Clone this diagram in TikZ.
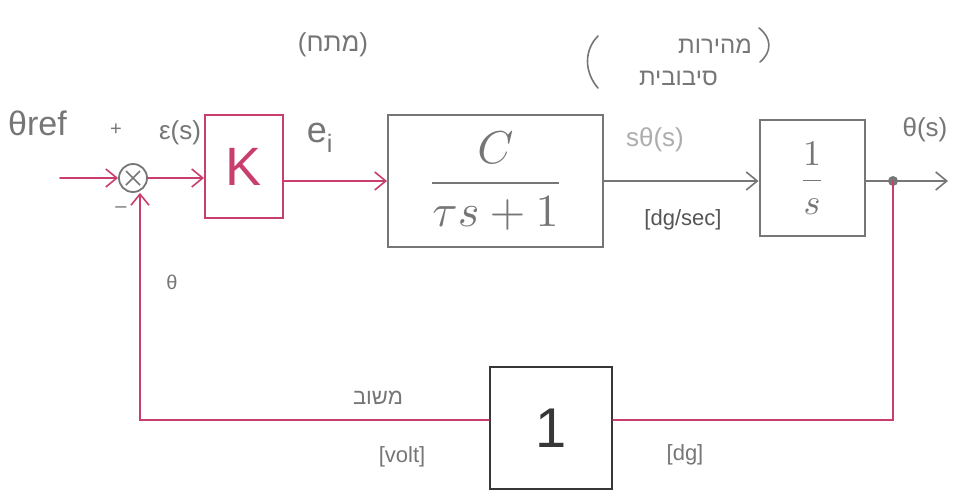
\documentclass[tikz,border=0pt]{standalone}
\usepackage{amsmath}
\usepackage{graphicx}
\usepackage{fontspec}
\setmainfont{Liberation Sans}
\newfontfamily\hebfont[Script=Hebrew]{Liberation Sans}
\TeXXeTstate=1
\usetikzlibrary{arrows.meta,calc}
\definecolor{pinkline}{RGB}{200,62,108}
\definecolor{pencil}{RGB}{118,118,118}
\definecolor{darkpencil}{RGB}{55,55,55}
\newcommand{\heb}[1]{{\hebfont\beginR #1\endR}}
\tikzset{
  wire/.style={line width=1.8pt, line cap=round},
  pinkwire/.style={wire, draw=pinkline},
  graywire/.style={wire, draw=pencil},
  tip/.style={-{Straight Barb[length=11pt,width=18pt,line width=1.6pt]}},
  blockbox/.style={draw, line width=2pt, rectangle, inner sep=0pt},
  lbl/.style={text=pencil, inner sep=0pt, font=\fontsize{26}{28}\selectfont},
  smalllbl/.style={text=pencil, inner sep=0pt, font=\fontsize{20}{22}\selectfont},
  bracket/.style={draw=pencil, line width=1.6pt, line cap=round},
}
\begin{document}
\begin{tikzpicture}[x=1pt,y=-1pt]
  \useasboundingbox (0,0) rectangle (971,496);
  \fill[white] (0,0) rectangle (971,496);

  % blocks
  \node[circle, draw=pencil, line width=1.8pt, minimum size=28pt, inner sep=0pt] (sum) at (133,178) {};
  \draw[pencil, line width=1.6pt] ($(sum)+(-7,-7)$) -- ($(sum)+(7,7)$) ($(sum)+(-7,7)$) -- ($(sum)+(7,-7)$);
  \node[blockbox, draw=pinkline, minimum width=78pt, minimum height=103pt,
        text=pinkline, font=\fontsize{54}{54}\selectfont] (K) at (244,166.5) {K};
  \node[blockbox, draw=pencil, minimum width=215pt, minimum height=132pt,
        text=pencil] (motor) at (495.5,181) {\scalebox{4.6}{$\dfrac{C}{\tau s+1}$}};
  \node[blockbox, draw=pencil, minimum width=105pt, minimum height=116pt,
        text=pencil] (integ) at (812,178) {\scalebox{3.6}{$\dfrac{1}{s}$}};
  \node[blockbox, draw=darkpencil, minimum width=122pt, minimum height=122pt,
        text=darkpencil, font=\fontsize{56}{56}\selectfont] (fb) at (551,428) {1};

  % connection points
  \coordinate (in) at (60,178);
  \coordinate (j) at (893,181);
  \coordinate (out) at (948,181);
  \coordinate (c1) at (893,420);
  \coordinate (c2) at (140,420);

  % forward path
  \draw[pinkwire, tip] (in) -- (sum.west);
  \draw[pinkwire, tip] (sum.east) -- (sum.east -| K.west);
  \draw[pinkwire, tip] (K.east |- motor.west) -- (motor.west);
  \draw[graywire, tip] (motor.east) -- (motor.east -| integ.west);
  \draw[graywire, tip] (integ.east |- j) -- (out);
  \fill[pencil] (j) circle (5pt);

  % feedback path
  \draw[pinkwire] (j) -- (c1) -- (c1 -| fb.east);
  \draw[pinkwire, tip] (c1 -| fb.west) -- (c2) -- (c2 |- sum.south);

  % signal labels
  \node[lbl, anchor=base west, font=\fontsize{34}{36}\selectfont] (thref) at (8,135) {θref};
  \node[smalllbl] (plus) at (116,130) {+};
  \node[smalllbl] (minus) at (121,210) {–};
  \node[lbl] (eps) at (180,133) {ε(s)};
  \node[lbl, font=\fontsize{36}{38}\selectfont] (ei) at (320,138) {e\textsubscript{i}};
  \node[lbl] (volt1) at (333,45) {\heb{(מתח)}};
  \node[lbl, font=\fontsize{24}{26}\selectfont, anchor=east] (speed1) at (752,46) {\heb{מהירות}};
  \node[lbl, font=\fontsize{24}{26}\selectfont, anchor=east] (speed2) at (718,78) {\heb{סיבובית}};
  % hand-drawn brackets round the speed note
  \draw[bracket] (598,36) .. controls (584,50) and (584,72) .. (598,88);
  \draw[bracket] (759,28) .. controls (772,38) and (772,52) .. (760,62);
  \node[lbl, text=pencil!60] (sth) at (655,140) {sθ(s)};
  \node[lbl, text=darkpencil!85, font=\fontsize{22}{24}\selectfont] (degsec) at (683,220) {[dg/sec]};
  \node[lbl] (ths) at (925,130) {θ(s)};
  \node[smalllbl] (thfb) at (172,282) {θ};
  \node[lbl, font=\fontsize{22}{24}\selectfont] (fbname) at (378,398) {\heb{משוב}};
  \node[lbl, font=\fontsize{22}{24}\selectfont] (volt) at (402,457) {[volt]};
  \node[lbl, font=\fontsize{22}{24}\selectfont] (deg) at (685,455) {[dg]};
\end{tikzpicture}
\end{document}
